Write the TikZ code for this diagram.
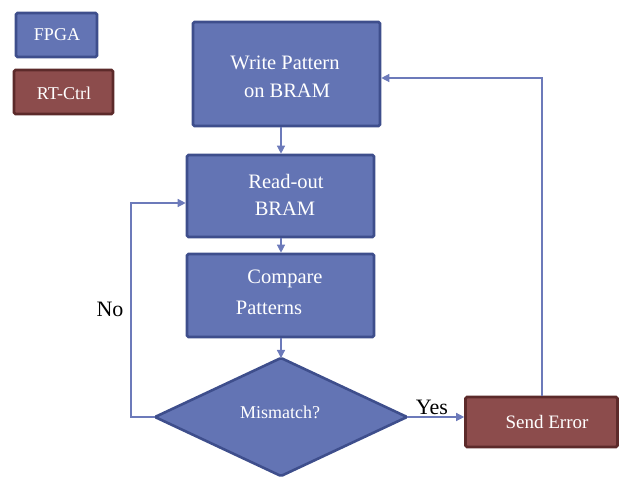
\documentclass[tikz,border=0pt]{standalone}
\usepackage{fontspec}
\setmainfont{Liberation Serif}
\usetikzlibrary{arrows.meta,shapes.geometric}
\definecolor{fblue}{RGB}{99,116,180}
\definecolor{dblue}{RGB}{62,78,140}
\definecolor{fred}{RGB}{140,76,76}
\definecolor{dred}{RGB}{92,42,42}
\definecolor{lineblue}{RGB}{108,122,186}
\tikzset{
  fpgabox/.style={draw=dblue,fill=fblue,line width=2.6pt,rounded corners=1.5pt,text=white},
  rtbox/.style={draw=dred,fill=fred,line width=2.6pt,rounded corners=1.5pt,text=white},
  conn/.style={draw=lineblue,line width=1.3pt,-{Triangle[length=8pt,width=8pt]}},
  boxtxt/.style={text=white,font=\fontsize{20.5}{24}\selectfont,inner sep=0pt},
  smalltxt/.style={text=white,font=\fontsize{18}{21}\selectfont,inner sep=0pt},
  lbl/.style={text=black,font=\fontsize{22}{24}\selectfont,inner sep=0pt}
}
\begin{document}
\begin{tikzpicture}[x=1pt,y=-1pt]
\useasboundingbox (0,0) rectangle (619,478);
% legend
\node[fpgabox,minimum width=81pt,minimum height=44pt,inner sep=0pt] (lf) at (56.5,35) {};
\node[smalltxt] (lft) at (57,35) {FPGA};
\node[rtbox,minimum width=99pt,minimum height=44pt,inner sep=0pt] (lr) at (63.5,92) {};
\node[smalltxt] (lrt) at (64,93) {RT-Ctrl};
% main boxes
\node[fpgabox,minimum width=187pt,minimum height=104pt,inner sep=0pt] (write) at (286.5,74) {};
\node[boxtxt] (w1) at (285,63) {Write Pattern};
\node[boxtxt] (w2) at (287,91) {on BRAM};
\node[fpgabox,minimum width=187pt,minimum height=82pt,inner sep=0pt] (read) at (280.5,196) {};
\node[boxtxt] (r1) at (286,181) {Read-out};
\node[boxtxt] (r2) at (285,209) {BRAM};
\node[fpgabox,minimum width=187pt,minimum height=83pt,inner sep=0pt] (comp) at (280.5,295.5) {};
\node[boxtxt] (c1) at (285,279) {Compare};
\node[boxtxt] (c2) at (269,308) {Patterns};
% diamond
\path[fpgabox] (281,358) -- (407,417) -- (281,476) -- (155,417) -- cycle;
\coordinate (dtop) at (281,358);
\coordinate (dleft) at (155,417);
\coordinate (dright) at (407,417);
\node[smalltxt] (mm) at (280,412) {Mismatch?};
% send error
\node[rtbox,minimum width=152pt,minimum height=50pt,inner sep=0pt] (send) at (541.5,422) {};
\node[boxtxt,font=\fontsize{19}{22}\selectfont] (st) at (547,422) {Send Error};
% connectors
\draw[conn] (281,127.3) -- (read.north -| 281,0);
\draw[conn] (read.south -| 281,0) -- (comp.north -| 281,0);
\draw[conn] (comp.south -| dtop) -- (dtop);
\draw[conn] (dleft) -- (131,417) -- (131,203) -- (read.west |- 0,203);
\draw[conn] (dright) -- (dright -| send.west);
\draw[conn] (send.north -| 542,0) -- (542,78) -- (write.east |- 0,78);
\node[lbl] (no) at (110,309) {No};
\node[lbl] (yes) at (432,407) {Yes};
\end{tikzpicture}
\end{document}
